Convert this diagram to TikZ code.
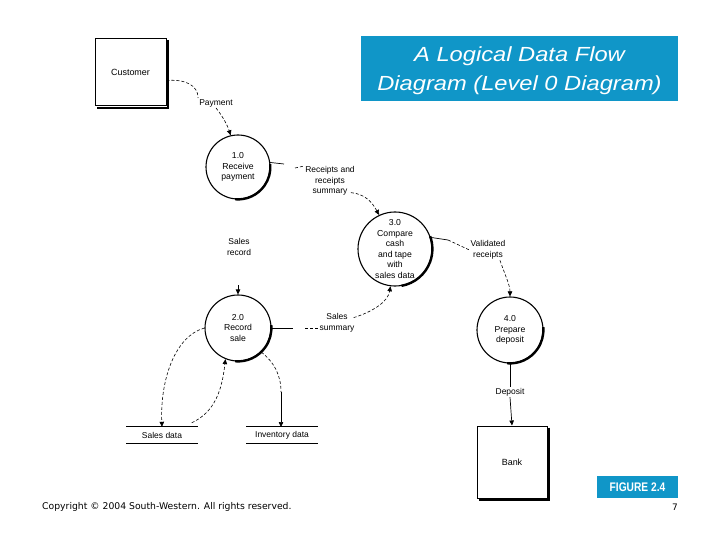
\documentclass[tikz,border=0pt]{standalone}
\usepackage{fontspec}
\usepackage{graphicx}
\setmainfont{Liberation Sans}
\newfontfamily\dejavu{DejaVu Sans}
\newfontfamily\titlefont[FakeStretch=1.16]{Liberation Sans}
\usetikzlibrary{arrows.meta}
\definecolor{titleblue}{RGB}{16,150,200}
\tikzset{
  lbl/.style={font=\fontsize{8.5}{10.5}\selectfont, align=center, inner sep=1bp},
  proc/.style={circle, draw, line width=1.1bp, align=center, inner sep=0pt,
               font=\fontsize{8.7}{10.5}\selectfont},
  ext/.style={draw, line width=1bp, font=\fontsize{9}{11}\selectfont},
  store/.style={minimum width=71bp, minimum height=16bp, inner sep=0pt,
                font=\fontsize{8.5}{10.5}\selectfont},
  flow/.style={line width=0.6bp, dash pattern=on 3bp off 2bp},
  solidflow/.style={line width=0.7bp},
  arr/.style={-{Triangle[length=5bp,width=4.5bp]}},
  shadowline/.style={line width=2.4bp},
  bluebox/.style={fill=titleblue, text=white, inner sep=0pt}
}
\begin{document}
\begin{tikzpicture}[x=1bp,y=1bp]
\useasboundingbox[fill=white] (0,0) rectangle (720,-540);

% title
\node[bluebox, minimum width=317bp, minimum height=65bp] (title) at (519.5,-68.5) {};
\node[text=white, inner sep=0pt, align=center,
      font=\titlefont\itshape\fontsize{20.5}{29}\selectfont] (titletext) at (519.5,-71)
  {A Logical Data Flow\\Diagram (Level 0 Diagram)};

% external entities
\node[ext, minimum width=71bp, minimum height=67bp] (cust) at (130.5,-72.5) {Customer};
\draw[shadowline] ([shift={(1.6bp,-2bp)}]cust.north east) -- ([shift={(1.6bp,-1.6bp)}]cust.south east) -- ([shift={(2bp,-1.6bp)}]cust.south west);

\node[ext, minimum width=70bp, minimum height=72bp] (bank) at (512,-462) {Bank};
\draw[shadowline] ([shift={(1.6bp,-2bp)}]bank.north east) -- ([shift={(1.6bp,-1.6bp)}]bank.south east) -- ([shift={(2bp,-1.6bp)}]bank.south west);

% processes
\node[proc, minimum size=64bp] (p1) at (238,-167) {1.0\\Receive\\payment};
\draw[shadowline] ([shift={(-95:32.4bp)}]p1.center) arc[start angle=-95, end angle=5, radius=32.4bp];

\node[proc, minimum size=74bp] (p3) at (395,-249) {3.0\\Compare\\cash\\and tape\\with\\sales data};
\draw[shadowline] ([shift={(-80:37.4bp)}]p3.center) arc[start angle=-80, end angle=20, radius=37.4bp];

\node[proc, minimum size=66bp] (p2) at (238,-328) {2.0\\Record\\sale};
\draw[shadowline] ([shift={(-95:33.4bp)}]p2.center) arc[start angle=-95, end angle=5, radius=33.4bp];

\node[proc, minimum size=66bp] (p4) at (510,-330) {4.0\\Prepare\\deposit};
\draw[shadowline] ([shift={(-95:33.4bp)}]p4.center) arc[start angle=-95, end angle=5, radius=33.4bp];

% data stores
\node[store] (sd) at (162,-435) {Sales data};
\draw[line width=0.7bp] (sd.north west) -- (sd.north east) (sd.south west) -- (sd.south east);
\node[store] (id) at (282,-435) {Inventory data};
\draw[line width=0.7bp] (id.north west) -- (id.north east) (id.south west) -- (id.south east);

% labels
\node[lbl] (pay) at (216,-103) {Payment};
\node[lbl] (rec) at (330,-181) {Receipts and\\receipts\\summary};
\node[lbl] (srec) at (239,-247) {Sales\\record};
\node[lbl] (val) at (488,-250) {Validated\\receipts};
\node[lbl] (ssum) at (337,-323) {Sales\\summary};
\node[lbl, fill=white] (dep) at (510,-392) {Deposit};

% flows
\draw[flow] ([yshift=-8bp]cust.east) .. controls (185,-79) and (198,-85) .. (pay.north west);
\draw[flow, arr] (pay.south) .. controls (224,-118) and (228,-127) .. (p1.103);

\draw[solidflow] (p1.8) -- (284,-164);
\draw[flow] (295,-168) -- (rec.150);
\draw[flow, arr] ([shift={(-5bp,4bp)}]rec.south east) .. controls (365,-194) and (372,-202) .. (p3.115);

\draw[solidflow] (p3.18) -- (448,-240);
\draw[flow] (448,-240) -- (val.west);
\draw[flow, arr] ([xshift=12bp]val.south) .. controls (505,-275) and (510,-285) .. (p4.north);

\draw[solidflow] (p2.east) -- (293,-328);
\draw[flow] (305,-328) -- (ssum.west |- 0,-328);
\draw[flow, arr] ([shift={(-2bp,-5bp)}]ssum.north east) .. controls (372,-312) and (388,-302) .. (p3.-97);

\draw[solidflow, arr] ([yshift=9bp]p2.north) -- (p2.north);

\draw[flow, arr] (p2.west) .. controls (175,-336) and (160,-380) .. (sd.north);
\draw[flow, arr] ([shift={(-6bp,4bp)}]sd.north east) .. controls (215,-412) and (222,-390) .. (p2.-112);
\draw[flow] (p2.-46) .. controls (274,-362) and (281,-375) .. (281,-392);
\draw[solidflow, arr] (281,-392) -- (281,-427);

\draw[solidflow] (p4.south) -- (dep.north);
\draw[solidflow, arr] (dep.south) -- (bank.north);

% footer
\node[bluebox, minimum width=81bp, minimum height=22bp, font=\bfseries\fontsize{12.5}{14}\selectfont] (fig) at (637.5,-487)
  {\scalebox{0.82}[1]{FIGURE 2.4}};
\node[anchor=west, inner sep=0pt, font=\dejavu\fontsize{9.3}{11}\selectfont] (copy) at (42,-507)
  {Copyright \textcopyright{} 2004 South-Western. All rights reserved.};
\node[inner sep=0pt, font=\dejavu\fontsize{9}{11}\selectfont] (pg) at (675,-507) {7};
\end{tikzpicture}
\end{document}
